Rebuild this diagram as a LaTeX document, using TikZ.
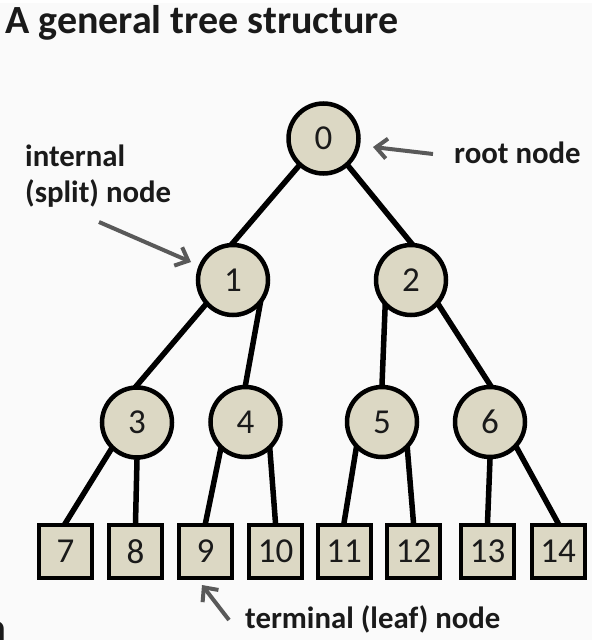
\documentclass[tikz,border=0pt]{standalone}
\usepackage{fontspec}
\setmainfont{Carlito}
\usetikzlibrary{arrows.meta}
\pgfdeclarelayer{back}
\pgfdeclarelayer{bg}
\pgfsetlayers{back,bg,main}
\definecolor{bgcol}{HTML}{FAFAFA}
\definecolor{nodefill}{HTML}{DCD8C4}
\definecolor{txtcol}{HTML}{1A1A1A}
\definecolor{arrcol}{HTML}{595959}
\tikzset{
  inner/.style={circle, draw=black, line width=4.5pt, fill=nodefill,
    minimum size=70pt, inner sep=0pt, text=txtcol,
    font=\fontsize{35}{36}\selectfont},
  leaf/.style={rectangle, draw=black, line width=4pt, fill=nodefill,
    minimum size=53pt, inner sep=0pt, text=txtcol,
    font=\fontsize{35}{36}\selectfont},
  treeedge/.style={line width=5.5pt, draw=black, shorten <=-5pt, shorten >=-4pt},
  label/.style={anchor=base west, inner sep=0pt, text=txtcol,
    font=\fontsize{30.8}{36}\selectfont\bfseries},
  pointer/.style={line width=4pt, draw=arrcol, -{Straight Barb[length=11pt,width=20pt]}}
}
\begin{document}
\begin{tikzpicture}[x=1pt,y=-1pt]
\useasboundingbox (0,0) rectangle (598,640);
\begin{pgfonlayer}{back}
\fill[white] (0,0) rectangle (598,640);
\fill[bgcol] (0,3) rectangle (592,640);
\end{pgfonlayer}

\node[anchor=base west, inner sep=0pt, text=txtcol,
  font=\fontsize{40}{44}\selectfont\bfseries] (title) at (5,33) {A general tree structure};

% internal nodes
\node[inner] (n0) at (323.5,138.5) {0};
\node[inner] (n1) at (233,280) {1};
\node[inner] (n2) at (411,280) {2};
\node[inner] (n3) at (137,422.5) {3};
\node[inner] (n4) at (245.5,422) {4};
\node[inner] (n5) at (382,422) {5};
\node[inner] (n6) at (490,422) {6};

% leaves
\node[leaf] (l7) at (65.5,551.5) {7};
\node[leaf] (l8) at (135.5,551.5) {8};
\node[leaf] (l9) at (205.5,551.5) {9};
\node[leaf] (l10) at (275.5,551.5) {10};
\node[leaf] (l11) at (344,551.5) {11};
\node[leaf] (l12) at (413.5,551.5) {12};
\node[leaf] (l13) at (487.5,551.5) {13};
\node[leaf] (l14) at (558,551.5) {14};

\begin{pgfonlayer}{bg}
\draw[treeedge] (n0.228) -- (n1.north);
\draw[treeedge] (n0.312) -- (n2.north);
\draw[treeedge] (n1.222) -- (n3.north);
\draw[treeedge] (n1.316) -- (n4.north);
\draw[treeedge] (n2.226) -- (n5.north);
\draw[treeedge] (n2.318) -- (n6.north);
\draw[treeedge] (n3.226) -- (l7.north);
\draw[treeedge] (n3.south) -- (l8.north);
\draw[treeedge] (n4.228) -- (l9.north);
\draw[treeedge] (n4.311) -- (l10.north);
\draw[treeedge] (n5.226) -- (l11.north);
\draw[treeedge] (n5.313) -- (l12.north);
\draw[treeedge] (n6.south) -- (l13.north);
\draw[treeedge] (n6.316) -- (l14.north);
\end{pgfonlayer}

% labels
\node[label] (rootlbl) at (454,163) {root node};
\node[label] (intlbl1) at (25,166) {internal};
\node[label] (intlbl2) at (25,202) {(split) node};
\node[label] (leaflbl) at (245,628) {terminal (leaf) node};

% pointer arrows
\coordinate (rootTail) at (433,154);
\coordinate (rootTip) at (373,147);
\coordinate (intTail) at (99,222);
\coordinate (intTip) at (191,262);
\coordinate (leafTail) at (229,620);
\coordinate (leafTip) at (202,585);
\draw[pointer] (rootTail) -- (rootTip);
\draw[pointer] (intTail) -- (intTip);
\draw[pointer] (leafTail) -- (leafTip);

% cropped letter at the lower left edge
\node[anchor=base east, inner sep=0pt, text=txtcol,
  font=\fontsize{40}{44}\selectfont\bfseries] (cropped) at (6.5,641) {a};
\end{tikzpicture}
\end{document}
